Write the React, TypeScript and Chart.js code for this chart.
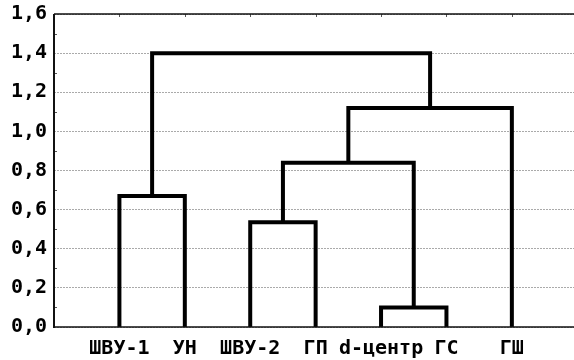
import React, { useEffect, useRef } from "react";
import { Chart, registerables } from "chart.js";

Chart.register(...registerables);

// Leaves of the dendrogram (left to right)
const leaves = ["ШВУ-1", "УН", "ШВУ-2", "ГП", "d-центр", "ГС", "ГШ"];
// Merge steps: node ids 0..6 are leaves, 7.. are clusters in merge order
const mergeLeft = [0, 2, 4, 8, 10, 7];
const mergeRight = [1, 3, 5, 9, 6, 11];
const mergeHeight = [0.67, 0.535, 0.1, 0.84, 1.12, 1.4];
// Y axis
const yMin = 0;
const yMax = 1.6;
const yStep = 0.2;

const FONT = "'DejaVu Sans Mono', monospace";

function buildDatasets() {
  const pos: number[] = leaves.map((_, i) => i);
  const hgt: number[] = leaves.map(() => 0);
  const sets: any[] = [];
  mergeLeft.forEach((l, k) => {
    const r = mergeRight[k];
    const h = mergeHeight[k];
    sets.push({
      data: [
        { x: pos[l], y: hgt[l] },
        { x: pos[l], y: h },
        { x: pos[r], y: h },
        { x: pos[r], y: hgt[r] },
      ],
      borderColor: "#000",
      borderWidth: 4,
      pointRadius: 0,
      tension: 0,
      fill: false,
      borderJoinStyle: "miter",
      borderCapStyle: "butt",
    });
    pos.push((pos[l] + pos[r]) / 2);
    hgt.push(h);
  });
  return sets;
}

const framePlugin = {
  id: "frame",
  afterDraw(chart: any) {
    const { ctx, chartArea } = chart;
    const { left, right, top, bottom } = chartArea;
    const xs = chart.scales.x;
    const ys = chart.scales.y;
    ctx.save();
    ctx.lineWidth = 1;
    ctx.strokeStyle = "#555";
    for (let v = yStep / 2; v < yMax; v += yStep) {
      const y = Math.round(ys.getPixelForValue(v)) + 0.5;
      ctx.beginPath();
      ctx.moveTo(left, y);
      ctx.lineTo(left + 3, y);
      ctx.stroke();
    }
    leaves.forEach((_, i) => {
      const x = Math.round(xs.getPixelForValue(i)) + 0.5;
      ctx.beginPath();
      ctx.moveTo(x, top);
      ctx.lineTo(x, top + 3);
      ctx.stroke();
    });
    ctx.strokeStyle = "#111";
    ctx.lineWidth = 1.5;
    ctx.beginPath();
    ctx.moveTo(left, top);
    ctx.lineTo(right, top);
    ctx.stroke();
    ctx.beginPath();
    ctx.moveTo(left, bottom);
    ctx.lineTo(right, bottom);
    ctx.stroke();
    ctx.lineWidth = 2;
    ctx.beginPath();
    ctx.moveTo(left, top);
    ctx.lineTo(left, bottom + 1);
    ctx.stroke();
    ctx.restore();
  },
};

export default function App() {
  const ref = useRef<HTMLCanvasElement>(null);
  useEffect(() => {
    if (!ref.current) return;
    const chart = new Chart(ref.current, {
      type: "line",
      data: { datasets: buildDatasets() },
      options: {
        responsive: false,
        animation: false,
        events: [],
        layout: { padding: { top: 14, right: 0, left: 0, bottom: 0 } },
        plugins: { legend: { display: false }, tooltip: { enabled: false } },
        scales: {
          x: {
            type: "linear",
            min: -1,
            max: 6.95,
            grid: { display: false, drawTicks: false },
            border: { display: false },
            afterBuildTicks: (scale: any) => {
              scale.ticks = leaves.map((_, i) => ({ value: i }));
            },
            afterFit: (scale: any) => {
              scale.height = 33;
              scale.paddingLeft = 0;
              scale.paddingRight = 0;
            },
            ticks: {
              autoSkip: false,
              maxRotation: 0,
              padding: 10,
              color: "#000",
              font: { family: FONT, size: 20, weight: "bold" },
              callback: (v: any) => leaves[v as number] ?? "",
            },
          },
          y: {
            type: "linear",
            min: yMin,
            max: yMax,
            grid: {
              color: "#aaa",
              lineWidth: 1,
              drawTicks: false,
            },
            border: { display: false, dash: [2, 1] },
            afterFit: (scale: any) => {
              scale.width = 54;
              scale.paddingTop = 0;
              scale.paddingBottom = 0;
            },
            ticks: {
              stepSize: yStep,
              padding: 7,
              color: "#000",
              font: { family: FONT, size: 20, weight: "bold" },
              callback: (v: any) => Number(v).toFixed(1).replace(".", ","),
            },
          },
        },
      },
      plugins: [framePlugin],
    } as any);
    return () => chart.destroy();
  }, []);
  return (
    <canvas
      ref={ref}
      width={574}
      height={360}
      style={{ position: "fixed", left: 0, top: 0, width: 574, height: 360 }}
    />
  );
}
